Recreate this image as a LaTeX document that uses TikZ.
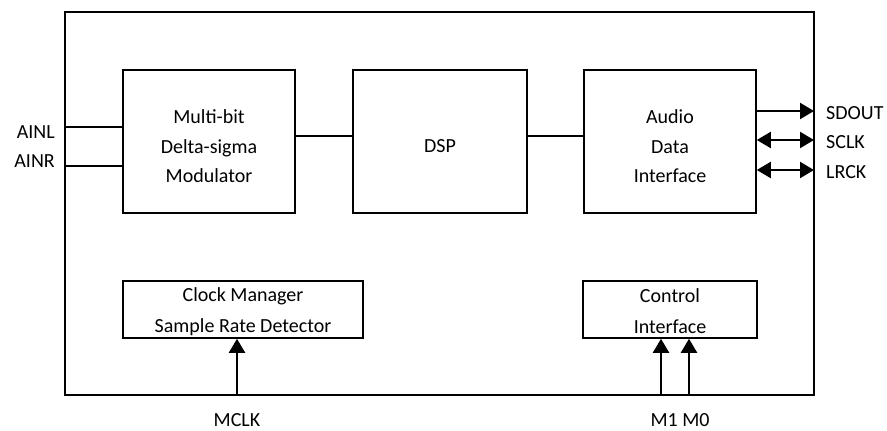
\documentclass[tikz,border=0pt]{standalone}
\usepackage{fontspec}
\setmainfont{Carlito}
\usetikzlibrary{arrows.meta}
\begin{document}
\begin{tikzpicture}[x=1pt,y=-1pt,
  blk/.style={draw, line width=1.6pt, inner sep=0pt},
  txt/.style={inner sep=0pt, align=center, font=\fontsize{20}{29.5}\selectfont},
  lbl/.style={inner sep=0pt, font=\fontsize{20}{24}\selectfont},
  wire/.style={line width=1.3pt},
  sig/.style={line width=2.2pt, -{Triangle[length=14pt,width=16pt]}},
  bsig/.style={line width=2.2pt, {Triangle[length=14pt,width=16pt]}-{Triangle[length=14pt,width=16pt]}}]
\useasboundingbox (0,0) rectangle (887,431);
% outer chip
\node[blk, minimum width=749pt, minimum height=383pt] (chip) at (439.5,203.5) {};
% blocks
\node[blk, minimum width=172pt, minimum height=143pt] (mdm) at (209,141.5) {};
\node[blk, minimum width=174pt, minimum height=143pt] (dsp) at (440,141.5) {};
\node[blk, minimum width=172pt, minimum height=143pt] (adi) at (670,141.5) {};
\node[blk, minimum width=240pt, minimum height=57pt] (clk) at (243,309.5) {};
\node[blk, minimum width=174pt, minimum height=57pt] (ctl) at (670,309.5) {};
\node[txt, yshift=-5pt] (mdmt) at (mdm.center) {Multi-bit\\Delta-sigma\\Modulator};
\node[txt, yshift=-5pt] (dspt) at (dsp.center) {DSP};
\node[txt, yshift=-5pt] (adit) at (adi.center) {Audio\\Data\\Interface};
\node[txt, yshift=-2pt, font=\fontsize{20}{31}\selectfont] (clkt) at (clk.center) {Clock Manager\\Sample Rate Detector};
\node[txt, yshift=-2pt, font=\fontsize{20}{31}\selectfont] (ctlt) at (ctl.center) {Control\\Interface};
% internal wires
\draw[wire] (mdm.east |- 0,136) -- (dsp.west |- 0,136);
\draw[wire] (dsp.east |- 0,136) -- (adi.west |- 0,136);
% analog inputs
\coordinate (ainlE) at (65,127);
\coordinate (ainrE) at (65,166);
\draw[wire] (ainlE) -- (ainlE -| mdm.west);
\draw[wire] (ainrE) -- (ainrE -| mdm.west);
\node[lbl, anchor=east] (lainl) at (55,132) {AINL};
\node[lbl, anchor=east] (lainr) at (55,161) {AINR};
% digital outputs
\coordinate (sdoutE) at (814,111);
\coordinate (sclkE) at (814,140);
\coordinate (lrckE) at (814,170);
\draw[sig] (sdoutE -| adi.east) -- (sdoutE);
\draw[bsig] (sclkE -| adi.east) -- (sclkE);
\draw[bsig] (lrckE -| adi.east) -- (lrckE);
\node[lbl, anchor=west] (lsdout) at (826,113) {SDOUT};
\node[lbl, anchor=west] (lsclk) at (826,142.5) {SCLK};
\node[lbl, anchor=west] (llrck) at (826,172.5) {LRCK};
% bottom inputs
\coordinate (mclkE) at (237,395);
\coordinate (m1E) at (661,395);
\coordinate (m0E) at (689,395);
\draw[sig] (mclkE) -- (mclkE |- clk.south);
\draw[sig] (m1E) -- (m1E |- ctl.south);
\draw[sig] (m0E) -- (m0E |- ctl.south);
\node[lbl] (lmclk) at (237,420) {MCLK};
\node[lbl] (lm) at (680,420) {M1 M0};
\end{tikzpicture}
\end{document}
